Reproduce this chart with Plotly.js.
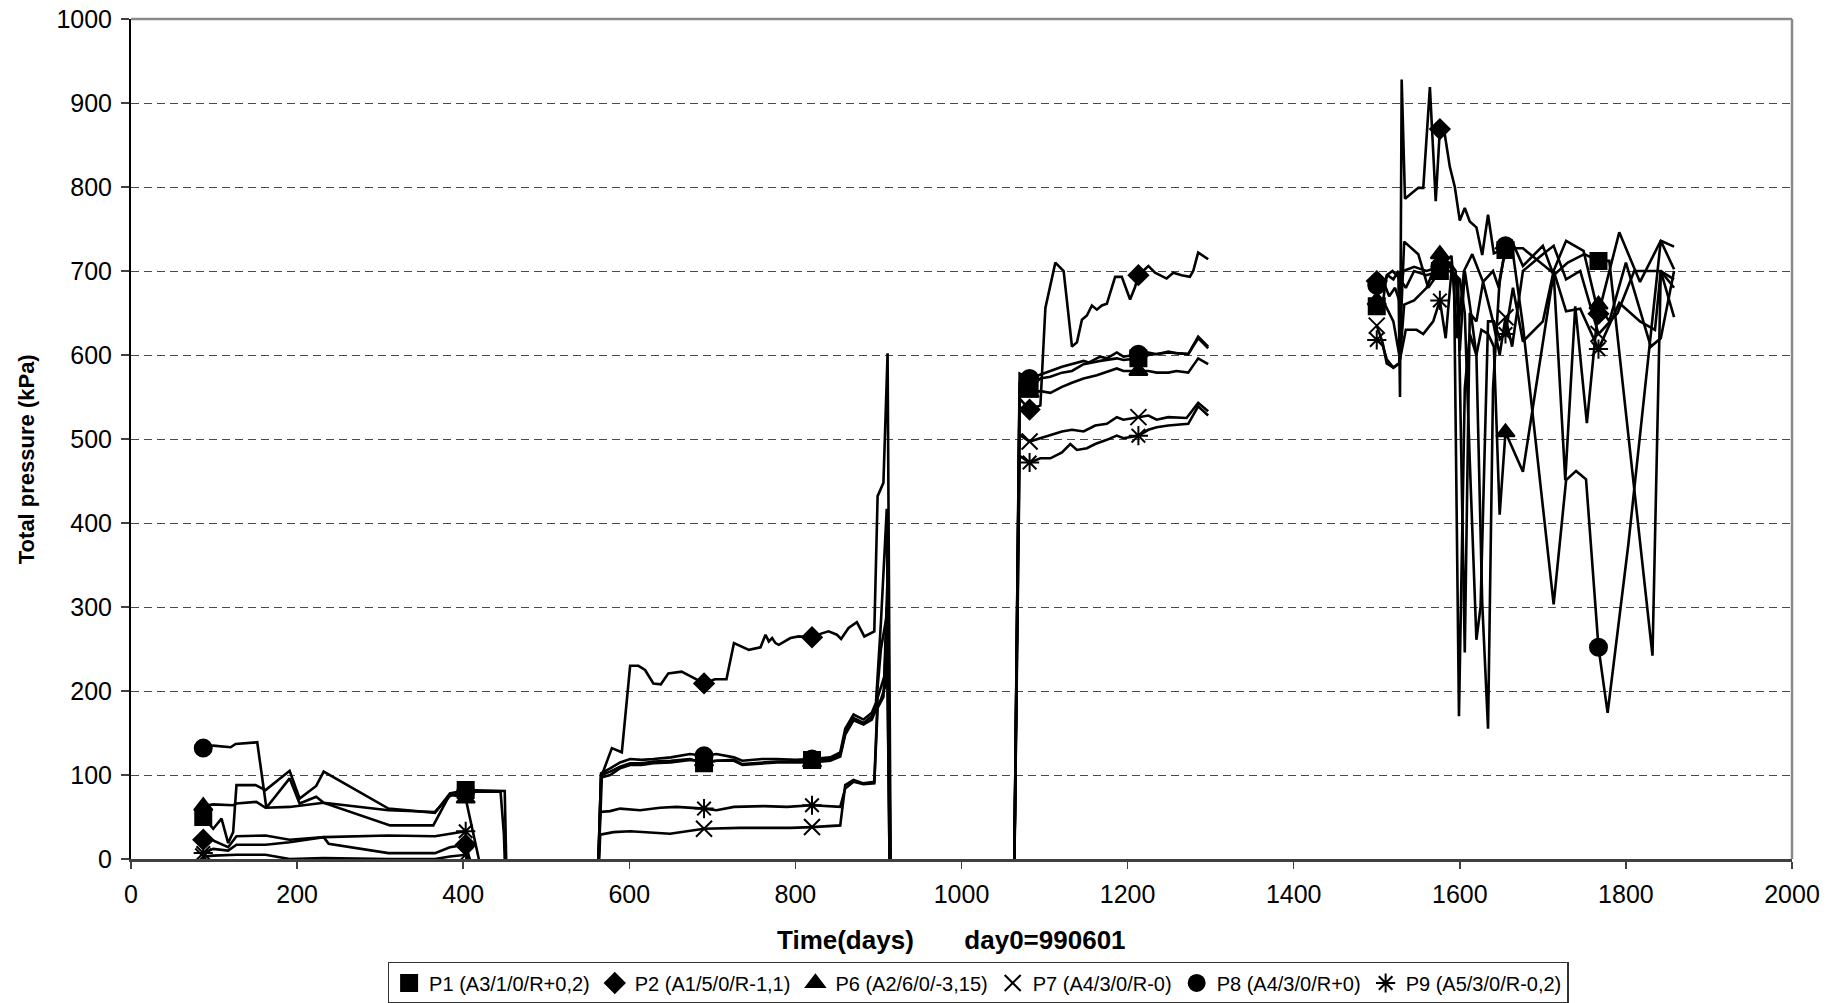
<!DOCTYPE html>
<html>
<head>
<meta charset="utf-8">
<script src="https://cdn.plot.ly/plotly-3.0.1.min.js"></script>
<style>
  html, body { margin: 0; padding: 0; background: #ffffff; }
  #chart { width: 1840px; height: 1003px; }
</style>
</head>
<body>
<div id="chart"></div>
<script>
// ---------------- data (days since 990601, total pressure in kPa) ----------------
// null separates the measuring campaigns; values below 0 are readings that fall off the axis.
const seriesNames = ["P1 (A3/1/0/R+0,2)", "P2 (A1/5/0/R-1,1)", "P6 (A2/6/0/-3,15)",
                     "P7 (A4/3/0/R-0)", "P8 (A4/3/0/R+0)", "P9 (A5/3/0/R-0,2)"];

const markerDays = [87, 403, 690, 820, 1082, 1213, 1500, 1576, 1655, 1767];

const p1Days = [87, 99, 109, 117, 123, 127, 150, 162, 191, 203, 223, 232, 310, 366, 384, 403, 450, 453, null,
  561, 566, 577, 589, 601, 615, 629, 650, 673, 690, 705, 726, 736, 760, 778, 800, 820, 842, 854, 860, 870, 882, 892, 897, 903, 910, 914, null,
  1063, 1070, 1082, 1095, 1107, 1121, 1133, 1147, 1167, 1187, 1195, 1213, 1225, 1249, 1273, 1285, 1297, null,
  1500, 1507, 1512, 1519, 1527, 1535, 1545, 1560, 1576, 1588, 1595, 1600, 1606, 1612, 1620, 1627, 1634, 1640, 1648, 1655, 1663, 1676, 1700, 1713, 1730, 1750, 1767, 1780, 1832, 1842, 1858];
const p1Vals = [50, 36, 48, 19, 32, 88, 88, 82, 105, 72, 87, 104, 60, 55, 78, 82, 81, -60, null,
  -60, 100, 104, 110, 114, 114, 116, 117, 119, 114, 117, 118, 113, 115, 116, 116, 118, 119, 124, 150, 168, 162, 170, 182, 250, 290, -60, null,
  -60, 560, 560, 572, 574, 579, 581, 589, 593, 596, 594, 596, 600, 603, 601, 620, 608, null,
  658, 660, 695, 700, 692, 680, 700, 695, 700, 710, 700, 605, 700, 660, 600, 305, 155, 560, 690, 725, 735, 706, 730, 695, 710, 720, 712, 712, 242, 700, 690];

const p2Days = [87, 99, 117, 127, 162, 191, 232, 238, 310, 366, 384, 403, 425, null,
  561, 567, 579, 591, 601, 611, 619, 629, 638, 647, 663, 675, 690, 703, 717, 726, 744, 758, 764, 768, 772, 776, 780, 794, 804, 820, 830, 840, 850, 855, 864, 874, 883, 895, 899, 906, 911, 915, null,
  1063, 1070, 1082, 1095, 1101, 1113, 1123, 1133, 1139, 1145, 1151, 1157, 1163, 1169, 1175, 1185, 1193, 1203, 1209, 1213, 1225, 1233, 1247, 1255, 1265, 1275, 1279, 1285, 1297, null,
  1500, 1506, 1513, 1520, 1526, 1528, 1530, 1534, 1550, 1556, 1564, 1571, 1576, 1582, 1588, 1594, 1600, 1606, 1612, 1620, 1627, 1634, 1641, 1655, 1676, 1712, 1728, 1749, 1767, 1792, 1817, 1842, 1858];
const p2Vals = [23, 22, 14, 27, 28, 23, 26, 18, 7, 7, 14, 17, -60, null,
  -60, 100, 132, 127, 230, 230, 225, 209, 208, 221, 223, 217, 209, 214, 214, 257, 249, 252, 267, 259, 263, 257, 255, 263, 265, 264, 268, 271, 267, 262, 275, 282, 265, 271, 432, 448, 602, -60, null,
  -60, 548, 535, 540, 656, 710, 700, 610, 615, 642, 647, 659, 654, 659, 661, 693, 693, 666, 681, 695, 706, 698, 691, 698, 695, 693, 700, 722, 714, null,
  688, 680, 695, 690, 700, 550, 928, 786, 799, 799, 919, 783, 869, 862, 824, 800, 760, 775, 759, 752, 719, 767, 721, 727, 727, 698, 736, 724, 649, 746, 687, 736, 729];

const p6Days = [87, 99, 123, 127, 151, 162, 191, 232, 312, 364, 384, 403, 432, null,
  561, 566, 577, 589, 601, 615, 629, 650, 673, 690, 705, 726, 736, 760, 778, 800, 820, 842, 854, 860, 870, 882, 892, 897, 903, 908, 910, 914, null,
  1063, 1070, 1082, 1095, 1107, 1121, 1133, 1147, 1163, 1187, 1195, 1213, 1225, 1235, 1249, 1259, 1273, 1285, 1297, null,
  1500, 1510, 1520, 1528, 1533, 1545, 1560, 1576, 1585, 1593, 1599, 1606, 1612, 1620, 1626, 1634, 1641, 1648, 1655, 1676, 1713, 1727, 1739, 1753, 1767, 1780, 1800, 1830, 1842, 1858];
const p6Vals = [63, 65, 64, 66, 68, 61, 62, 67, 40, 40, 77, 72, -60, null,
  -60, 97, 100, 108, 112, 112, 114, 115, 118, 116, 117, 117, 112, 114, 115, 115, 115, 117, 122, 148, 165, 160, 166, 178, 190, 205, 300, -60, null,
  -60, 568, 555, 557, 555, 562, 567, 572, 576, 584, 581, 581, 581, 579, 579, 581, 579, 596, 589, null,
  665, 660, 640, 595, 660, 665, 680, 720, 712, 695, 170, 560, 625, 600, 630, 625, 610, 410, 508, 461, 698, 451, 658, 519, 660, 640, 710, 610, 620, 700];

const p7Days = [87, 99, 127, 162, 191, 232, 310, 366, 384, 403, 420, null,
  561, 565, 581, 601, 649, 690, 734, 794, 820, 854, 860, 870, 882, 895, 899, 907, 911, 915, null,
  1063, 1070, 1082, 1095, 1107, 1121, 1133, 1147, 1161, 1175, 1187, 1195, 1213, 1225, 1235, 1249, 1271, 1285, 1297, null,
  1500, 1507, 1512, 1520, 1527, 1533, 1550, 1562, 1576, 1588, 1598, 1606, 1612, 1620, 1628, 1640, 1648, 1655, 1663, 1676, 1700, 1713, 1728, 1745, 1767, 1790, 1810, 1842, 1858];
const p7Vals = [3, 4, 5, 5, 0, 1, 0, 0, 3, 5, -60, null,
  -60, 29, 32, 33, 30, 36, 37, 37, 38, 40, 88, 94, 90, 92, 192, 217, 337, -60, null,
  -60, 505, 497, 501, 504, 509, 511, 509, 516, 518, 526, 523, 526, 528, 523, 526, 525, 543, 533, null,
  635, 615, 590, 585, 590, 735, 720, 680, 700, 700, 690, 246, 650, 640, 687, 640, 600, 645, 610, 700, 720, 730, 690, 700, 625, 650, 700, 700, 645];

const p8Days = [87, 99, 120, 126, 152, 163, 191, 203, 223, 232, 310, 366, 384, 403, 445, 449, 452, null,
  561, 566, 577, 589, 601, 615, 629, 650, 673, 690, 705, 726, 736, 760, 778, 800, 820, 842, 854, 860, 870, 882, 892, 897, 903, 910, 914, null,
  1063, 1070, 1082, 1095, 1107, 1121, 1133, 1147, 1153, 1167, 1175, 1187, 1195, 1213, 1225, 1235, 1249, 1259, 1273, 1285, 1297, null,
  1500, 1507, 1515, 1522, 1527, 1532, 1545, 1560, 1576, 1590, 1597, 1605, 1615, 1628, 1640, 1647, 1655, 1663, 1676, 1713, 1728, 1740, 1752, 1767, 1778, 1803, 1842, 1858];
const p8Vals = [132, 135, 133, 137, 139, 61, 96, 66, 74, 67, 58, 56, 75, 80, 80, 30, -60, null,
  -60, 102, 108, 115, 119, 118, 119, 121, 125, 123, 125, 121, 117, 119, 119, 118, 119, 121, 127, 155, 172, 166, 174, 186, 282, 417, -60, null,
  -60, 578, 572, 577, 581, 586, 589, 593, 591, 598, 596, 603, 598, 601, 603, 601, 604, 602, 601, 622, 610, null,
  683, 690, 670, 680, 665, 700, 705, 700, 705, 718, 620, 700, 720, 687, 700, 680, 730, 728, 635, 303, 451, 462, 452, 252, 174, 375, 736, 702];

const p9Days = [87, 99, 117, 127, 162, 191, 232, 310, 366, 384, 403, 406, null,
  561, 565, 577, 589, 613, 637, 657, 690, 705, 726, 762, 790, 820, 854, 860, 870, 882, 895, 899, 906, 911, 915, null,
  1063, 1070, 1082, 1095, 1107, 1121, 1131, 1139, 1151, 1161, 1175, 1187, 1195, 1213, 1225, 1235, 1249, 1273, 1285, 1297, null,
  1500, 1507, 1512, 1520, 1527, 1535, 1548, 1556, 1568, 1576, 1583, 1590, 1600, 1606, 1612, 1620, 1625, 1634, 1641, 1648, 1655, 1664, 1676, 1700, 1713, 1728, 1745, 1767, 1792, 1817, 1835, 1842, 1858];
const p9Vals = [7, 12, 10, 17, 17, 20, 26, 28, 27, 30, 33, -60, null,
  -60, 56, 57, 60, 58, 61, 62, 60, 58, 62, 63, 62, 64, 62, 84, 92, 89, 90, 180, 193, 300, -60, null,
  -60, 480, 472, 477, 477, 484, 494, 487, 489, 494, 499, 504, 501, 504, 511, 514, 516, 518, 539, 528, null,
  618, 612, 595, 585, 590, 630, 630, 625, 640, 665, 620, 700, 690, 650, 474, 261, 300, 640, 640, 620, 625, 680, 616, 640, 700, 652, 655, 607, 662, 640, 630, 700, 680];

const xTicks = [0, 200, 400, 600, 800, 1000, 1200, 1400, 1600, 1800, 2000];
const yTicks = [0, 100, 200, 300, 400, 500, 600, 700, 800, 900, 1000];
const xTitle = "Time(days)\u00a0\u00a0\u00a0\u00a0\u00a0\u00a0\u00a0day0=990601";
const yTitle = "Total pressure (kPa)";

// ---------------- styling ----------------
const allDays = [p1Days, p2Days, p6Days, p7Days, p8Days, p9Days];
const allVals = [p1Vals, p2Vals, p6Vals, p7Vals, p8Vals, p9Vals];
const symbols = [
  {symbol: "square", size: 16},
  {symbol: "diamond", size: 15},
  {symbol: "triangle-up", size: 16},
  {symbol: "x-thin-open", size: 16},
  {symbol: "circle", size: 17},
  {symbol: "asterisk-open", size: 16}
];
const FONT = "Liberation Sans, Arial, Helvetica, sans-serif";

const traces = [];
// lines (no legend entry)
for (let i = 0; i < 6; i++) {
  traces.push({
    type: "scatter", mode: "lines",
    x: allDays[i], y: allVals[i],
    line: {color: "#000000", width: 2.6},
    connectgaps: false, showlegend: false, hoverinfo: "skip"
  });
}
// markers at selected readings, legend shows marker only
for (let i = 0; i < 6; i++) {
  const mx = [], my = [];
  markerDays.forEach(d => {
    const k = allDays[i].indexOf(d);
    if (k >= 0) { mx.push(d); my.push(allVals[i][k]); }
  });
  const s = symbols[i];
  traces.push({
    type: "scatter", mode: "markers", name: seriesNames[i],
    x: mx, y: my,
    marker: {symbol: s.symbol, size: s.size, color: "#000000",
             line: {color: "#000000", width: 2}},
    cliponaxis: true
  });
}

const layout = {
  width: 1840, height: 1003,
  paper_bgcolor: "#ffffff", plot_bgcolor: "#ffffff",
  margin: {l: 131, r: 48, t: 19, b: 144, pad: 0, autoexpand: false},
  font: {family: FONT, color: "#000000", size: 22},
  showlegend: true,
  xaxis: {
    range: [0, 2000], tickmode: "array", tickvals: xTicks, ticktext: xTicks.map(String),
    ticks: "outside", ticklen: 7, tickwidth: 1.5, tickcolor: "#404040",
    showline: true, linecolor: "#404040", linewidth: 2.5,
    showgrid: false, zeroline: false,
    tickfont: {family: FONT, size: 25, color: "#000000"},
    ticklabelstandoff: 4
  },
  yaxis: {
    range: [0, 1000], tickmode: "array", tickvals: yTicks, ticktext: yTicks.map(String),
    ticks: "outside", ticklen: 8, tickwidth: 1.5, tickcolor: "#404040",
    showline: true, linecolor: "#000000", linewidth: 2,
    showgrid: true, gridcolor: "#4a4a4a", gridwidth: 1, griddash: "8px,5px",
    zeroline: false,
    tickfont: {family: FONT, size: 25, color: "#000000"},
    ticklabelstandoff: 4
  },
  annotations: [
    {text: "<b>" + xTitle + "</b>", xref: "paper", yref: "paper",
     x: 0.4937, y: -0.0964, xanchor: "center", yanchor: "middle", showarrow: false,
     font: {family: FONT, size: 26, color: "#000000"}},
    {text: "<b>" + yTitle + "</b>", xref: "paper", yref: "paper",
     x: -0.0632, y: 0.476, xanchor: "center", yanchor: "middle", showarrow: false,
     textangle: -90, font: {family: FONT, size: 22, color: "#000000"}}
  ],
  legend: {
    orientation: "h", x: 0.51, xanchor: "center", y: -0.1226, yanchor: "top",
    bordercolor: "#333333", borderwidth: 1.5, bgcolor: "#ffffff",
    font: {family: FONT, size: 20, color: "#000000"},
    itemwidth: 30, traceorder: "normal"
  },
  shapes: [
    {type: "line", xref: "paper", yref: "paper", x0: 0, x1: 1, y0: 1, y1: 1,
     line: {color: "#8a8a8a", width: 2.5}, layer: "above"},
    {type: "line", xref: "paper", yref: "paper", x0: 1, x1: 1, y0: 0, y1: 1,
     line: {color: "#8a8a8a", width: 2.5}, layer: "above"}
  ]
};

Plotly.newPlot("chart", traces, layout, {staticPlot: true, displayModeBar: false});
</script>
</body>
</html>
